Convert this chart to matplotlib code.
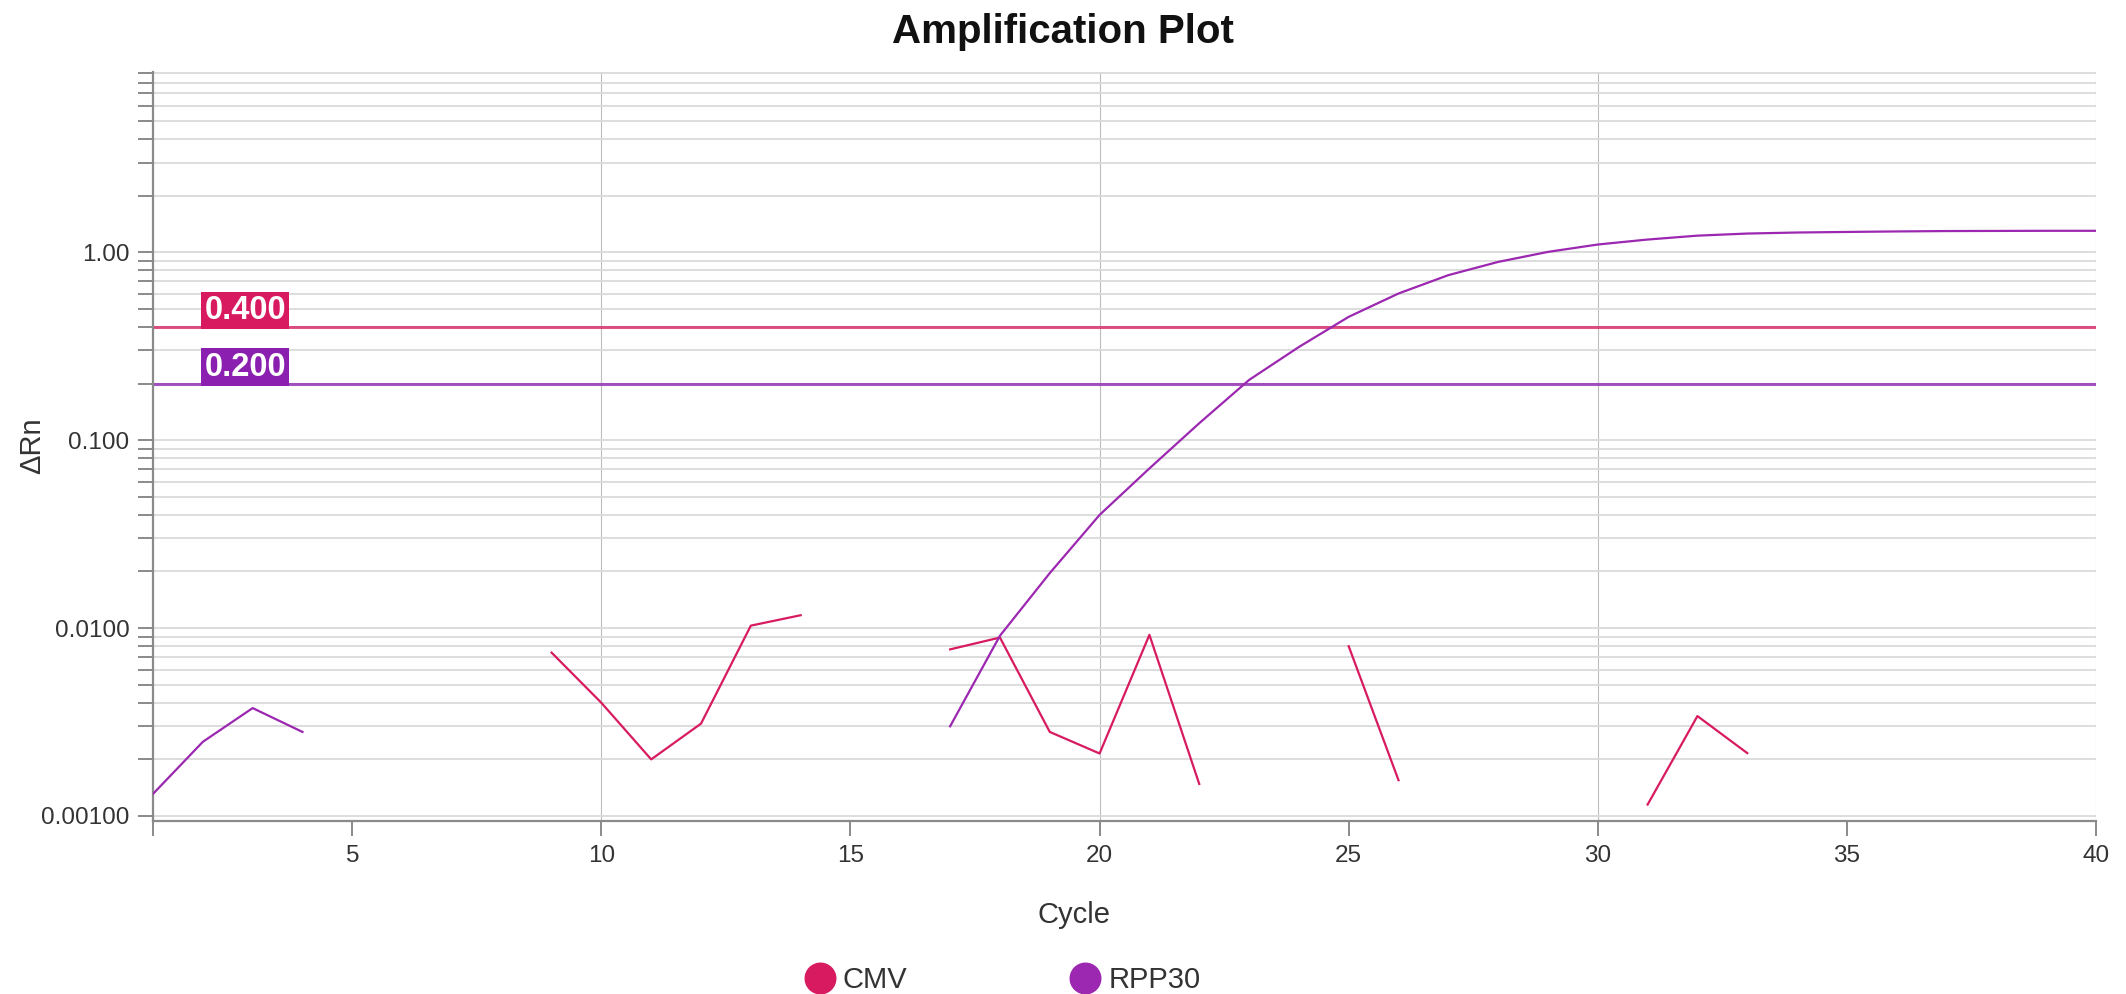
import numpy as np
import matplotlib
matplotlib.use("Agg")
import matplotlib.pyplot as plt
from matplotlib.lines import Line2D
from matplotlib.ticker import FixedLocator, NullFormatter, LogLocator

plt.rcParams["font.family"] = ["Liberation Sans", "DejaVu Sans"]

# ── Data ──────────────────────────────────────────────────────────────
cycles = np.arange(1, 41)
nan = np.nan

cmv = [nan, nan, nan, nan, nan, nan, nan, nan,
       0.0074, 0.0040, 0.0020, 0.0031, 0.0103, 0.0117,
       nan, nan,
       0.0077, 0.0089, 0.0028, 0.00215, 0.0092, 0.00148,
       nan, nan,
       0.0080, 0.00155,
       nan, nan, nan, nan,
       0.00115, 0.0034, 0.00216,
       nan, nan, nan, nan, nan, nan, nan]

rpp30 = [0.00131, 0.00248, 0.00375, 0.0028,
         nan, nan, nan, nan, nan, nan, nan, nan, nan, nan, nan, nan,
         0.0030, 0.0091, 0.0196, 0.0400, 0.0707, 0.123, 0.209, 0.313,
         0.453, 0.603, 0.755, 0.888, 1.004, 1.099, 1.168, 1.225,
         1.257, 1.273, 1.282, 1.290, 1.296, 1.298, 1.300, 1.300]

thresholds = [0.400, 0.200]
threshold_labels = ["0.400", "0.200"]

series_names = ["CMV", "RPP30"]
ytick_vals = [0.001, 0.01, 0.1, 1.0]
ytick_labels = ["0.00100", "0.0100", "0.100", "1.00"]
xtick_vals = [1, 5, 10, 15, 20, 25, 30, 35, 40]
xtick_labels = ["", "5", "10", "15", "20", "25", "30", "35", "40"]

CMV_COL = "#D81B60"
RPP_COL = "#9C27B0"
THR_COLS = ["#D81B60", "#8A1FB0"]

# ── Figure ────────────────────────────────────────────────────────────
W, H = 2126, 994
fig = plt.figure(figsize=(W / 100, H / 100), dpi=100)
fig.patch.set_facecolor("white")
ax = fig.add_axes([153 / W, 1 - 821 / H, (2096 - 153) / W, (821 - 72) / H])

ax.set_yscale("log")
ax.set_xlim(1, 40)
ax.set_ylim(0.00094, 9.1)

# grid: horizontal at every major/minor decade step, vertical every 10
ax.yaxis.set_major_locator(FixedLocator(ytick_vals))
ax.yaxis.set_minor_locator(LogLocator(base=10, subs=np.arange(2, 10)))
ax.yaxis.set_minor_formatter(NullFormatter())
ax.set_yticklabels(ytick_labels)
ax.set_xticks(xtick_vals)
ax.set_xticklabels(xtick_labels)

ax.grid(axis="y", which="both", color="#DADADA", linewidth=1.3, zorder=0)
for gx in [10, 20, 30, 40]:
    ax.axvline(gx, color="#BDBDBD", linewidth=0.8, zorder=0)

ax.tick_params(axis="both", which="both", length=11, width=1.4,
               color="#8A8A8A", labelcolor="#333333", labelsize=17.5, pad=6)
for side in ["top", "right"]:
    ax.spines[side].set_visible(False)
for side in ["left", "bottom"]:
    ax.spines[side].set_color("#8A8A8A")
    ax.spines[side].set_linewidth(1.6)

# thresholds
for thr, lab, col in zip(thresholds, threshold_labels, THR_COLS):
    ax.axhline(thr, color=col, linewidth=2.2, alpha=0.75, zorder=2)
    ax.text(2.03, thr * 1.012, lab, color="white", fontsize=23.5,
            fontweight="bold", ha="left", va="bottom", zorder=5,
            bbox=dict(boxstyle="square,pad=0.1", fc=col, ec="none"))

# curves
ax.plot(cycles, cmv, color=CMV_COL, linewidth=1.6, zorder=3)
ax.plot(cycles, rpp30, color=RPP_COL, linewidth=1.6, zorder=4)

# ── Texts ─────────────────────────────────────────────────────────────
fig.text(0.5, 1 - 43 / H, "Amplification Plot", ha="center", va="baseline",
         fontsize=29, fontweight="bold", color="#111111")
fig.text(1074 / W, 1 - 923 / H, "Cycle", ha="center", va="baseline",
         fontsize=21, color="#333333")
fig.text(32 / W, 1 - 446 / H, "ΔRn", ha="center", va="center",
         rotation=90, fontsize=21, color="#333333")

handles = [Line2D([], [], linestyle="none", marker="o", markersize=22,
                  markerfacecolor=c, markeredgecolor=c)
           for c in [CMV_COL, RPP_COL]]
fig.legend(handles, series_names, loc="center",
           bbox_to_anchor=(1003 / W, 1 - 980 / H), ncol=2, frameon=False,
           fontsize=21, handlelength=1.0, handletextpad=0.3,
           columnspacing=5.6, labelcolor="#333333")

plt.savefig("out.png", dpi=100)
plt.close()
